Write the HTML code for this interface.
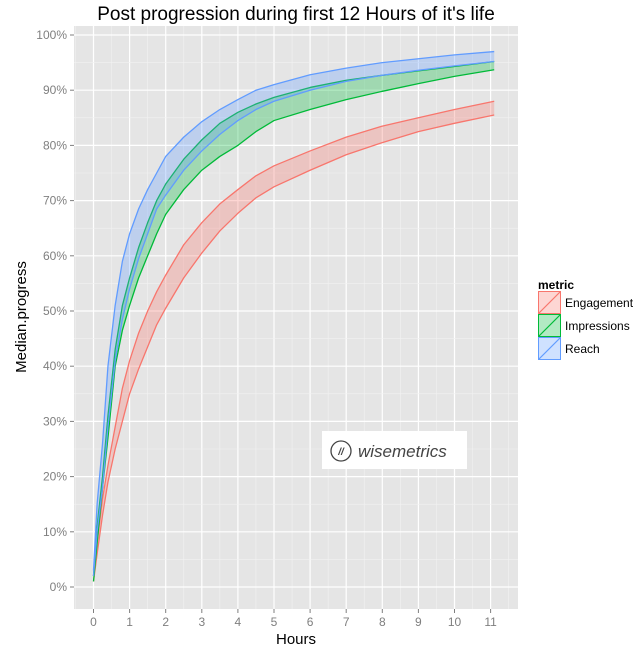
<!DOCTYPE html>
<html><head><meta charset="utf-8"><style>
body{margin:0;background:#fff;}
svg{display:block;font-family:"Liberation Sans",Arial,sans-serif;}
</style></head><body>
<svg id="chart" width="641" height="660" viewBox="0 0 641 660">
<text x="296" y="20" font-size="19" text-anchor="middle" fill="#000">Post progression during first 12 Hours of it's life</text>
<rect x="74" y="26" width="444" height="583" fill="#e5e5e5"/>
<g id="grid"></g>
<g id="bands"></g>
<g id="axes"></g>
<g>
<rect x="322" y="431" width="145" height="38" fill="#fff"/>
<circle cx="341" cy="451" r="10" fill="none" stroke="#444" stroke-width="1.3"/>
<text x="341" y="455" font-size="10" font-style="italic" font-weight="bold" text-anchor="middle" fill="#444">//</text>
<text x="358" y="457" font-size="17" font-style="italic" fill="#444">wisemetrics</text>
</g>
<text x="296" y="644" font-size="15" text-anchor="middle">Hours</text>
<text transform="translate(26,317) rotate(-90)" font-size="15" text-anchor="middle">Median.progress</text>
<g>
<text x="538" y="289" font-size="12" font-weight="bold">metric</text>
<g id="legend"></g>
</g>
</svg>
<script>
const xs = [0, 0.1, 0.25, 0.4, 0.6, 0.8, 1, 1.25, 1.5, 1.75, 2, 2.5, 3, 3.5, 4, 4.5, 5, 6, 7, 8, 9, 10, 11.1];
const reachHi = [3, 15, 26, 40, 51, 59, 64, 68.5, 72, 75, 78, 81.5, 84.3, 86.5, 88.3, 90, 91, 92.8, 94, 95, 95.7, 96.4, 97];
const reachLo = [2, 10, 18, 29, 41, 48.5, 54, 59.5, 64, 68.5, 71, 75.5, 79, 82, 84.5, 86.5, 88, 90, 91.6, 92.7, 93.6, 94.4, 95.2];
const implHi = [2, 11, 20, 31, 43, 51, 56, 61.5, 66, 70, 73, 77.5, 81, 84, 86, 87.5, 88.7, 90.5, 91.8, 92.7, 93.5, 94.3, 95.2];
const implLo = [1, 8, 18, 27, 40, 46.5, 51, 56, 60, 64, 67.5, 72, 75.5, 78, 80, 82.5, 84.5, 86.5, 88.3, 89.8, 91.2, 92.5, 93.7];
const engHi = [2, 8, 16, 22, 29, 36, 41, 46, 50, 53.5, 56.5, 62, 66, 69.4, 72, 74.5, 76.3, 79, 81.5, 83.5, 85, 86.5, 88];
const engLo = [1, 6, 13, 19, 25, 30, 35, 39.5, 43.5, 47.5, 50.5, 56, 60.5, 64.5, 67.7, 70.5, 72.5, 75.5, 78.3, 80.5, 82.5, 84, 85.5];
const xTicks = [0,1,2,3,4,5,6,7,8,9,10,11];
const yTicks = [0,10,20,30,40,50,60,70,80,90,100];
const series = [
 {name:'Engagement', hi:engHi, lo:engLo, fill:'#f8766d', stroke:'#f8766d'},
 {name:'Impressions', hi:implHi, lo:implLo, fill:'#00ba38', stroke:'#00ba38'},
 {name:'Reach', hi:reachHi, lo:reachLo, fill:'#619cff', stroke:'#619cff'}
];
const NS='http://www.w3.org/2000/svg';
const X = v => 93.5 + v*36.1;
const Y = v => 587 - v*5.52;
function mk(tag, attrs, parent){const e=document.createElementNS(NS,tag);for(const k in attrs)e.setAttribute(k,attrs[k]);parent.appendChild(e);return e;}
const grid=document.getElementById('grid'), axes=document.getElementById('axes'), bands=document.getElementById('bands'), leg=document.getElementById('legend');
for(let i=0;i<xTicks.length;i++){
 const v=xTicks[i];
 const g=mk('line',{x1:X(v),x2:X(v),y1:26,y2:609,stroke:'#fff','stroke-width':1.2},grid);
 
 
 mk('line',{x1:X(v+0.5),x2:X(v+0.5),y1:26,y2:609,stroke:'#f2f2f2','stroke-width':0.6},grid);
 mk('line',{x1:X(v),x2:X(v),y1:609,y2:613,stroke:'#7f7f7f'},axes);
 const t=mk('text',{x:X(v),y:626,'font-size':12,'text-anchor':'middle',fill:'#7f7f7f'},axes);
 t.textContent=v;
 
 
}
mk('line',{x1:X(-0.5),x2:X(-0.5),y1:26,y2:609,stroke:'#f2f2f2','stroke-width':0.6},grid);
for(let i=0;i<yTicks.length;i++){
 const v=yTicks[i];
 const g=mk('line',{x1:74,x2:518,y1:Y(v),y2:Y(v),stroke:'#fff','stroke-width':1.2},grid);
 
 
 if(i<yTicks.length-1) mk('line',{x1:74,x2:518,y1:Y(v+5),y2:Y(v+5),stroke:'#f2f2f2','stroke-width':0.6},grid);
 mk('line',{x1:70,x2:74,y1:Y(v),y2:Y(v),stroke:'#7f7f7f'},axes);
 const t=mk('text',{x:67,y:Y(v)+4,'font-size':12,'text-anchor':'end',fill:'#7f7f7f'},axes);
 t.textContent=v+'%';
 
 
}
series.forEach((s,si)=>{
 let d='M'+xs.map((x,i)=>X(x)+','+Y(s.hi[i])).join('L');
 d+='L'+xs.map((x,i)=>X(x)+','+Y(s.lo[i])).reverse().join('L')+'Z';
 const p=mk('path',{d:d,fill:s.fill,'fill-opacity':0.3,stroke:'none'},bands);
 
 
 const l1=mk('path',{d:'M'+xs.map((x,i)=>X(x)+','+Y(s.hi[i])).join('L'),fill:'none',stroke:s.stroke,'stroke-width':1.3,'stroke-linejoin':'round'},bands);
 
 
 const l2=mk('path',{d:'M'+xs.map((x,i)=>X(x)+','+Y(s.lo[i])).join('L'),fill:'none',stroke:s.stroke,'stroke-width':1.3,'stroke-linejoin':'round'},bands);
 
 
 const y0=291+si*23;
 const g=mk('g',{},leg);
 
 
 mk('rect',{x:538,y:y0,width:23,height:23,fill:'#fff'},g);
 mk('rect',{x:538.5,y:y0+0.5,width:22,height:22,fill:s.fill,'fill-opacity':0.3,stroke:s.stroke},g);
 mk('line',{x1:539,y1:y0+22,x2:560,y2:y0+1,stroke:s.stroke,'stroke-width':1.2},g);
 const t=mk('text',{x:565,y:y0+16,'font-size':12},g);
 t.textContent=s.name;
});
</script>
</body></html>
